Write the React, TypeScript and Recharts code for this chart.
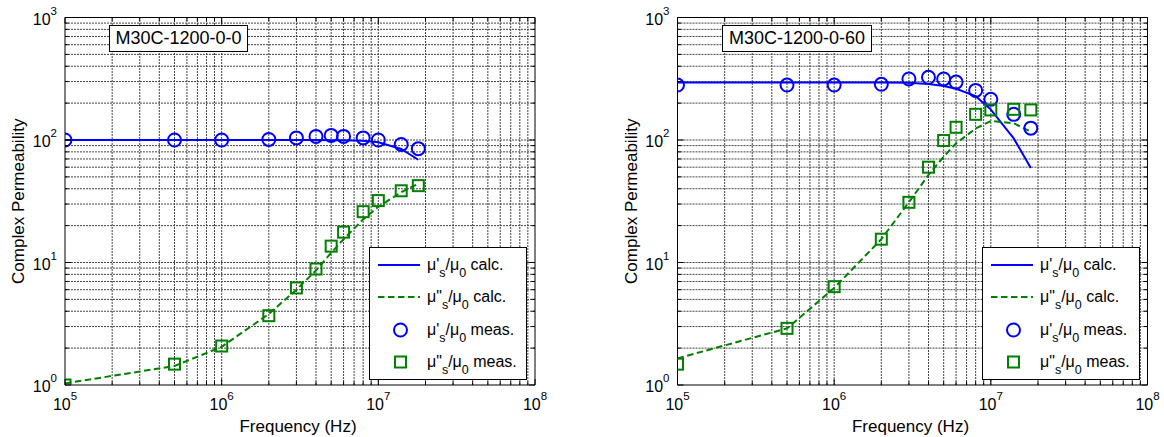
import { ComposedChart, Line, Scatter, XAxis, YAxis, ReferenceLine } from 'recharts'

const FONT = '"Liberation Sans", Arial, Helvetica, sans-serif'
const BLUE = '#0000ff'
const GREEN = '#008000'

// measurement frequencies (Hz)
const FREQ = [1e5, 5e5, 1e6, 2e6, 3e6, 4e6, 5e6, 6e6, 8e6, 1e7, 1.4e7, 1.8e7]

// M30C-1200-0-0
const REAL_CALC_A = [100, 100, 100, 100, 100, 100, 99.7, 99.3, 98.5, 95.7, 84.5, 69]
const IMAG_CALC_A = [1.03, 1.43, 2.05, 3.8, 6.0, 8.6, 12, 15.5, 22.5, 28.5, 37.5, 44]
const REAL_MEAS_A = [100, 100, 100, 101, 104, 107, 109, 107, 104, 100, 92, 85]
const IMAG_MEAS_A = [1.0, 1.48, 2.08, 3.68, 6.2, 8.85, 13.6, 17.7, 26, 32, 38.5, 42.4]

// M30C-1200-0-60
const REAL_CALC_B = [295, 295, 295, 295, 293, 286, 276, 262, 228, 177, 103, 59]
const IMAG_CALC_B = [1.65, 2.9, 6.2, 15.5, 31, 52, 73, 94, 124, 143, 137, 117]
const REAL_MEAS_B = [281, 281, 281, 285, 315, 325, 315, 297, 254, 215, 162, 125]
const IMAG_MEAS_B = [1.48, 2.9, 6.35, 15.5, 31, 60, 99, 127, 162, 176, 178, 176]

const X_MAJOR = [1e5, 1e6, 1e7, 1e8]
const Y_MAJOR = [1, 10, 100, 1000]
const MINOR_STEPS = [2, 3, 4, 5, 6, 7, 8, 9]

const withMinors = (majors: number[]) =>
  majors.flatMap((m, i) => (i < majors.length - 1 ? [m, ...MINOR_STEPS.map((k) => k * m)] : [m]))

const X_TICKS = withMinors(X_MAJOR)
const Y_TICKS = withMinors(Y_MAJOR)

const toPoints = (ys: number[]) => FREQ.map((f, i) => ({ f, v: ys[i] }))

type Side = 'bottom' | 'top' | 'left' | 'right'

// ticks point inward, labels only on bottom/left majors
const makeTick = (side: Side, majors: number[]) => (props: any) => {
  const { x, y, payload } = props
  const v = payload.value
  const major = majors.includes(v)
  const len = major ? 6 : 3.5
  let x2 = x
  let y2 = y
  if (side === 'bottom') y2 = y - len
  if (side === 'top') y2 = y + len
  if (side === 'left') x2 = x + len
  if (side === 'right') x2 = x - len
  const exp = Math.round(Math.log10(v))
  return (
    <g>
      <line x1={x} y1={y} x2={x2} y2={y2} stroke="#000" strokeWidth={1} />
      {major && side === 'bottom' && (
        <text x={x} y={y + 25} textAnchor="middle" fontSize={16} fill="#000" fontFamily={FONT}>
          <tspan>10</tspan>
          <tspan dy={-10} fontSize={11.5}>{exp}</tspan>
        </text>
      )}
      {major && side === 'left' && (
        <text x={x - 8} y={y + 7} textAnchor="end" fontSize={16} fill="#000" fontFamily={FONT}>
          <tspan>10</tspan>
          <tspan dy={-10} fontSize={11.5}>{exp}</tspan>
        </text>
      )}
    </g>
  )
}

const circleShape = (props: any) => (
  <circle cx={props.cx} cy={props.cy} r={6.5} fill="none" stroke={BLUE} strokeWidth={2} />
)
const squareShape = (props: any) => (
  <rect x={props.cx - 5.5} y={props.cy - 5.5} width={11} height={11} fill="none" stroke={GREEN} strokeWidth={2} />
)

const Sub = ({ children }: { children: string }) => (
  <span style={{ fontSize: 12.5, position: 'relative', top: 7 }}>{children}</span>
)

const LEGEND_ROWS = [
  { prime: "'", text: ' calc.', kind: 'line' },
  { prime: '"', text: ' calc.', kind: 'dash' },
  { prime: "'", text: ' meas.', kind: 'circle' },
  { prime: '"', text: ' meas.', kind: 'square' },
]

function LegendBox({ left }: { left: number }) {
  return (
    <div
      style={{
        position: 'absolute',
        left,
        top: 247,
        width: 158,
        height: 133,
        boxSizing: 'border-box',
        border: '1px solid #000',
        background: '#fff',
        fontFamily: FONT,
        fontSize: 16,
        color: '#000',
      }}
    >
      {LEGEND_ROWS.map((row, i) => {
        const cy = 17 + i * 32.3
        return (
          <div key={i}>
            <svg width={56} height={20} style={{ position: 'absolute', left: 0, top: cy - 10 }}>
              {row.kind === 'line' && <line x1={8} y1={10} x2={50} y2={10} stroke={BLUE} strokeWidth={2} />}
              {row.kind === 'dash' && (
                <line x1={8} y1={10} x2={50} y2={10} stroke={GREEN} strokeWidth={2} strokeDasharray="6.5 3.5" />
              )}
              {row.kind === 'circle' && <circle cx={30.5} cy={10} r={6.5} fill="none" stroke={BLUE} strokeWidth={2} />}
              {row.kind === 'square' && (
                <rect x={25} y={4.5} width={11} height={11} fill="none" stroke={GREEN} strokeWidth={2} />
              )}
            </svg>
            <div
              style={{
                position: 'absolute',
                left: 57,
                top: cy - 10,
                height: 20,
                lineHeight: '20px',
                whiteSpace: 'nowrap',
              }}
            >
              μ{row.prime}
              <Sub>s</Sub>/μ<Sub>0</Sub>
              {row.text}
            </div>
          </div>
        )
      })}
    </div>
  )
}

interface PanelProps {
  title: string
  titleLeft: number
  titleWidth: number
  legendLeft: number
  plotLeft: number
  plotRight: number
  realCalc: number[]
  imagCalc: number[]
  realMeas: number[]
  imagMeas: number[]
}

const AXIS_LINE = { stroke: '#000', strokeWidth: 1 }

function Panel(p: PanelProps) {
  // every axis is 1px thick, so the margins are one less than the plot edge
  return (
    <div style={{ position: 'relative', width: 582, height: 437 }}>
      <ComposedChart
        width={582}
        height={437}
        margin={{ top: 16.5, right: 582 - p.plotRight - 1, bottom: 51, left: p.plotLeft - 1 }}
        style={{ fontFamily: FONT }}
      >
        <XAxis
          dataKey="f"
          type="number"
          scale="log"
          domain={[1e5, 1e8]}
          allowDataOverflow
          ticks={X_TICKS}
          interval={0}
          height={1}
          tickSize={0}
          tickMargin={0}
          tickLine={false}
          axisLine={AXIS_LINE}
          tick={makeTick('bottom', X_MAJOR)}
          label={(lp: any) => (
            <text
              x={lp.viewBox.x + lp.viewBox.width / 2 - 2}
              y={lp.viewBox.y + 46.5}
              textAnchor="middle"
              fontSize={17}
              fontFamily={FONT}
              fill="#000"
            >
              Frequency (Hz)
            </text>
          )}
        />
        <XAxis
          xAxisId="top"
          orientation="top"
          dataKey="f"
          type="number"
          scale="log"
          domain={[1e5, 1e8]}
          allowDataOverflow
          ticks={X_TICKS}
          interval={0}
          height={1}
          tickSize={0}
          tickMargin={0}
          tickLine={false}
          axisLine={AXIS_LINE}
          tick={makeTick('top', X_MAJOR)}
        />
        <YAxis
          dataKey="v"
          type="number"
          scale="log"
          domain={[1, 1000]}
          allowDataOverflow
          ticks={Y_TICKS}
          interval={0}
          width={1}
          tickSize={0}
          tickMargin={0}
          tickLine={false}
          axisLine={AXIS_LINE}
          tick={makeTick('left', Y_MAJOR)}
          label={(lp: any) => {
            const x = lp.viewBox.x - 40
            const y = lp.viewBox.y + lp.viewBox.height / 2
            return (
              <text
                x={x}
                y={y}
                transform={`rotate(-90, ${x}, ${y})`}
                textAnchor="middle"
                fontSize={17}
                fontFamily={FONT}
                fill="#000"
              >
                Complex Permeability
              </text>
            )
          }}
        />
        <YAxis
          yAxisId="right"
          orientation="right"
          dataKey="v"
          type="number"
          scale="log"
          domain={[1, 1000]}
          allowDataOverflow
          ticks={Y_TICKS}
          interval={0}
          width={1}
          tickSize={0}
          tickMargin={0}
          tickLine={false}
          axisLine={AXIS_LINE}
          tick={makeTick('right', Y_MAJOR)}
        />

        {/* dotted log grid */}
        {X_TICKS.filter((v) => v > 1e5 && v < 1e8).map((v) => (
          <ReferenceLine key={`gx${v}`} x={v} stroke="#444" strokeWidth={1} strokeDasharray="2 1" />
        ))}
        {Y_TICKS.filter((v) => v > 1 && v < 1000).map((v) => (
          <ReferenceLine key={`gy${v}`} y={v} stroke="#444" strokeWidth={1} strokeDasharray="2 1" />
        ))}

        <Line
          data={toPoints(p.realCalc)}
          dataKey="v"
          type="linear"
          stroke={BLUE}
          strokeWidth={2}
          dot={false}
          isAnimationActive={false}
        />
        <Line
          data={toPoints(p.imagCalc)}
          dataKey="v"
          type="linear"
          stroke={GREEN}
          strokeWidth={2}
          strokeDasharray="6.5 3.5"
          dot={false}
          isAnimationActive={false}
        />
        <Scatter data={toPoints(p.realMeas)} dataKey="v" shape={circleShape} isAnimationActive={false} />
        <Scatter data={toPoints(p.imagMeas)} dataKey="v" shape={squareShape} isAnimationActive={false} />
      </ComposedChart>

      <div
        style={{
          position: 'absolute',
          left: p.titleLeft,
          top: 25,
          width: p.titleWidth,
          height: 27,
          boxSizing: 'border-box',
          border: '1px solid #000',
          background: '#fff',
          fontFamily: FONT,
          fontSize: 18,
          lineHeight: '25px',
          textAlign: 'center',
          whiteSpace: 'nowrap',
          color: '#000',
        }}
      >
        {p.title}
      </div>
      <LegendBox left={p.legendLeft} />
    </div>
  )
}

export default function App() {
  return (
    <div
      style={{
        position: 'absolute',
        left: 0,
        top: 0,
        width: 1164,
        height: 437,
        display: 'flex',
        background: '#fff',
      }}
    >
      <Panel
        title="M30C-1200-0-0"
        titleLeft={109}
        titleWidth={139}
        legendLeft={369}
        plotLeft={65}
        plotRight={535}
        realCalc={REAL_CALC_A}
        imagCalc={IMAG_CALC_A}
        realMeas={REAL_MEAS_A}
        imagMeas={IMAG_MEAS_A}
      />
      <Panel
        title="M30C-1200-0-60"
        titleLeft={140}
        titleWidth={150}
        legendLeft={400}
        plotLeft={95.5}
        plotRight={565.5}
        realCalc={REAL_CALC_B}
        imagCalc={IMAG_CALC_B}
        realMeas={REAL_MEAS_B}
        imagMeas={IMAG_MEAS_B}
      />
    </div>
  )
}
